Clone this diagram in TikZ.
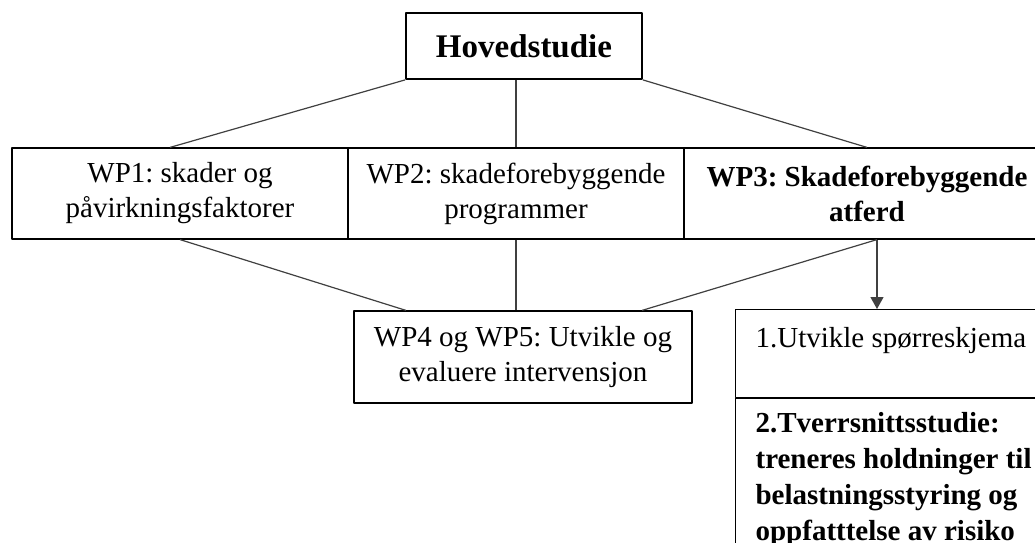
\documentclass[tikz,border=0pt]{standalone}
\usepackage{fontspec}
\setmainfont{Liberation Serif}
\usetikzlibrary{arrows.meta}
\frenchspacing
\begin{document}
\begin{tikzpicture}[x=0.5pt, y=-0.5pt, line join=round, >={Triangle[length=6pt,width=6.5pt]},
	wpbox/.style={draw, line width=0.6pt, minimum width=168pt, minimum height=45.5pt, align=center, inner sep=0pt, font=\fontsize{14.5}{17.5}\selectfont},
	subbox/.style={draw, line width=0.6pt, anchor=north west, inner xsep=8.5pt, minimum width=170pt},
	link/.style={draw=black!75, line width=0.6pt}]
		\useasboundingbox (0,0) rectangle (1035,542);
		\clip (0,0) rectangle (1035,542);
		% main study
		\node[draw, line width=0.9pt, minimum width=118pt, minimum height=33pt, font=\fontsize{16.5}{20}\selectfont\bfseries] (hoved) at (524,46) {Hovedstudie};
		% work packages
		\node[wpbox] (wp1) at (180,193.5) {WP1: skader og\\påvirkningsfaktorer};
		\node[wpbox] (wp2) at (516,193.5) {WP2: skadeforebyggende\\programmer};
		\node[wpbox, minimum width=183pt, font=\fontsize{14.5}{17.5}\selectfont\bfseries] (wp3) at (867,193.5) {WP3: Skadeforebyggende\\atferd};
		\node[wpbox, minimum width=169pt, minimum height=46pt] (wp4) at (523,357) {WP4 og WP5: Utvikle og\\evaluere intervensjon};
		% WP3 steps
		\node[subbox, inner ysep=8pt, text height=11pt, text depth=17pt, font=\fontsize{14.5}{18}\selectfont] (sp1) at (735,309)
			{\parbox[t]{150pt}{\raggedright 1.Utvikle spørreskjema}};
		\node[subbox, inner ysep=7pt, text height=10pt, text depth=80pt, font=\fontsize{14.5}{18}\selectfont\bfseries] (sp2) at (sp1.south west)
			{\parbox[t]{150pt}{\raggedright 2.Tverrsnittsstudie:\\treneres holdninger til\\belastningsstyring og\\oppfatttelse av risiko}};
		
		\coordinate (fork) at ([xshift=5pt]wp3.south);
		\draw[link] (hoved.south west) -- ([xshift=-5pt]wp1.north);
		\draw[link] (hoved.south -| wp2.north) -- (wp2.north);
		\draw[link] (hoved.south east) -- (wp3.north);
		\draw[link] (wp1.south) -- ([xshift=-58.5pt]wp4.north);
		\draw[link] (wp2.south) -- (wp2.south |- wp4.north);
		\draw[link] (fork) -- ([xshift=59.5pt]wp4.north);
		\draw[link,->] (fork) -- (fork |- sp1.north);
	\end{tikzpicture}
\end{document}
